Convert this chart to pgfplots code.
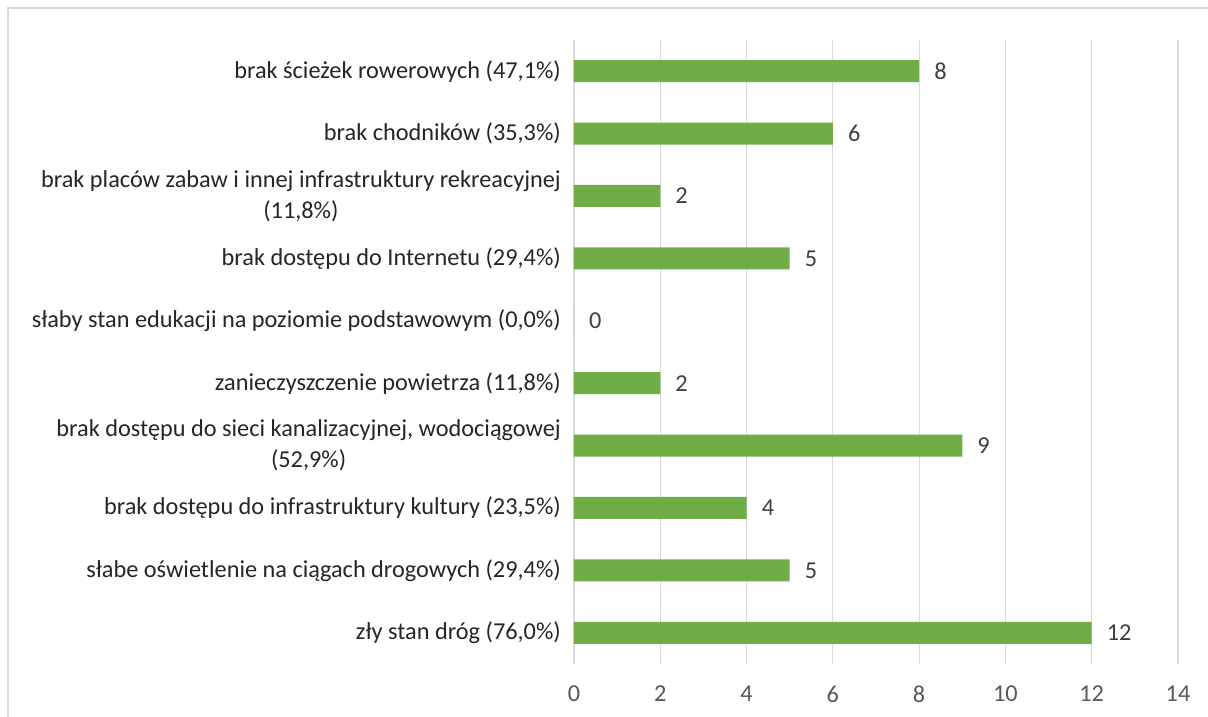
\documentclass[border=0pt]{standalone}
\usepackage{pgfplots}
\pgfplotsset{compat=1.18}
\usepackage{fontspec}
\setmainfont{Carlito}
\definecolor{bargreen}{HTML}{70AD47}
\definecolor{gridgray}{HTML}{D9D9D9}
\definecolor{ticktext}{HTML}{595959}
\definecolor{cattext}{HTML}{262626}
\definecolor{labtext}{HTML}{404040}
\begin{document}
\begin{tikzpicture}
\useasboundingbox (-574bp,-53bp) rectangle (634bp,664bp);
\fill[white] (-574bp,-53bp) rectangle (634bp,664bp);
\draw[gridgray, line width=1.2bp] (-566bp,-53bp) -- (-566bp,656bp) -- (634bp,656bp);
\begin{axis}[
  at={(0,0)}, anchor=south west,
  scale only axis,
  width=604bp, height=624bp,
  xbar, bar width=22bp,
  xmin=0, xmax=14,
  ymin=-0.5, ymax=9.5,
  xtick={0,2,...,14},
  ytick={0,1,...,9},
  yticklabels={
    zły stan dróg (76{,}0\%),
    słabe oświetlenie na ciągach drogowych (29{,}4\%),
    brak dostępu do infrastruktury kultury (23{,}5\%),
    {brak dostępu do sieci kanalizacyjnej, wodociągowej\\(52,9\%)},
    zanieczyszczenie powietrza (11{,}8\%),
    słaby stan edukacji na poziomie podstawowym (0{,}0\%),
    brak dostępu do Internetu (29{,}4\%),
    {brak placów zabaw i innej infrastruktury rekreacyjnej\\(11,8\%)},
    brak chodników (35{,}3\%),
    brak ścieżek rowerowych (47{,}1\%)
  },
  axis line style={draw=none},
  major tick length=0pt,
  xmajorgrids, grid style={gridgray, line width=1.2bp},
  ymajorgrids=false,
  /pgf/number format/assume math mode=true,
  xticklabel style={font=\fontsize{24.3bp}{29bp}\selectfont, text=ticktext, inner sep=0pt, anchor=north, yshift=-22bp},
  yticklabel style={font=\fontsize{24.3bp}{31bp}\selectfont, text=cattext, inner sep=0pt, anchor=east, xshift=-13bp, align=center},
  nodes near coords,
  nodes near coords style={font=\fontsize{24.3bp}{29bp}\selectfont, text=labtext, inner sep=0pt, anchor=west, xshift=15bp},
  clip=false,
]
\addplot[fill=bargreen, draw=none] coordinates {
  (12,0) (5,1) (4,2) (9,3) (2,4) (0,5) (5,6) (2,7) (6,8) (8,9)
};
\end{axis}
\end{tikzpicture}
\end{document}
